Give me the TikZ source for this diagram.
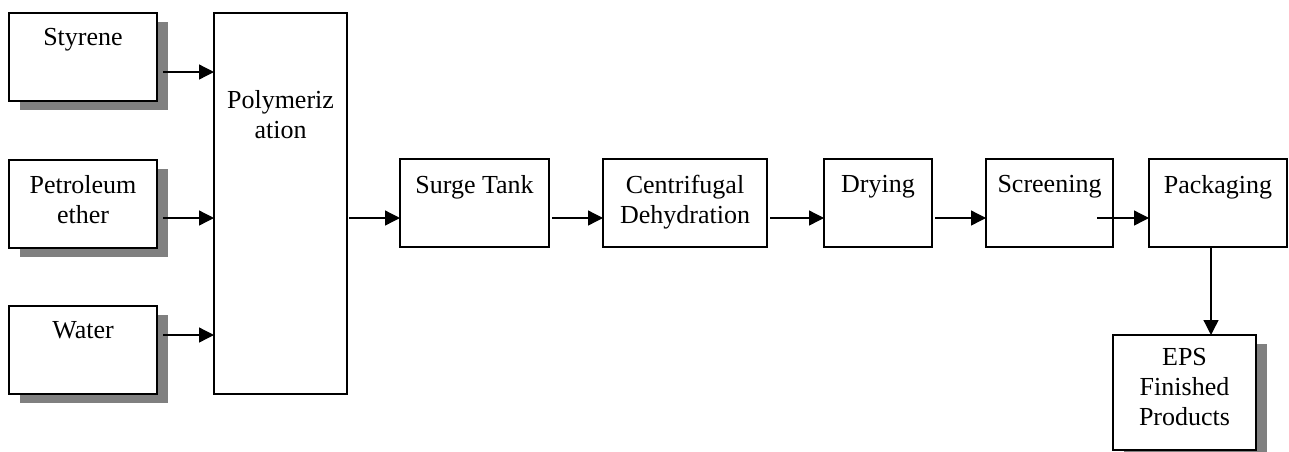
\documentclass[tikz,border=0pt]{standalone}
\usepackage{fontspec}
\setmainfont{Liberation Serif}
\usetikzlibrary{arrows.meta,shadows}
\definecolor{shadowgray}{RGB}{128,128,128}
\tikzset{
  box/.style={draw=black, fill=white, line width=1.4pt, rectangle, inner sep=0pt, outer sep=0pt},
  shbox/.style={box, drop shadow={shadow xshift=11pt, shadow yshift=-8.5pt, fill=shadowgray, opacity=1}},
  txt/.style={anchor=north, inner sep=0pt, align=center, font=\fontsize{26}{30}\selectfont},
  arr/.style={line width=1.3pt, -{Triangle[length=15pt,width=15pt]}},
}
\begin{document}
\begin{tikzpicture}[x=1pt,y=-1pt]
\useasboundingbox (0,0) rectangle (1289,451);
% inputs
\node[shbox, minimum width=148pt, minimum height=88pt,
      label={[txt, name=styT, yshift=-15pt]north:Styrene}] (sty) at (83,57) {};
\node[shbox, minimum width=148pt, minimum height=88pt,
      label={[txt, name=petT, yshift=-15pt]north:Petroleum\\ether}] (pet) at (83,204) {};
\node[shbox, minimum width=148pt, minimum height=88pt,
      label={[txt, name=watT, yshift=-15pt]north:Water}] (wat) at (83,350) {};
% polymerization
\node[box, minimum width=133pt, minimum height=381pt,
      label={[txt, name=polT, yshift=-77pt]north:Polymeriz\\ation}] (poly) at (280.5,203.5) {};
% process chain
\node[box, minimum width=149pt, minimum height=88pt,
      label={[txt, name=surT, yshift=-16pt]north:Surge Tank}] (surge) at (474.5,203) {};
\node[box, minimum width=164pt, minimum height=88pt,
      label={[txt, name=cenT, yshift=-16pt]north:Centrifugal\\Dehydration}] (cent) at (685,203) {};
\node[box, minimum width=108pt, minimum height=88pt,
      label={[txt, name=dryT, yshift=-16pt]north:Drying}] (dry) at (878,203) {};
\node[box, minimum width=127pt, minimum height=88pt,
      label={[txt, name=scrT, yshift=-16pt]north:Screening}] (scr) at (1049.5,203) {};
\node[box, minimum width=138pt, minimum height=88pt,
      label={[txt, name=pacT, yshift=-16pt]north:Packaging}] (pack) at (1218,203) {};
\node[shbox, minimum width=143pt, minimum height=115pt,
      label={[txt, name=epsT, yshift=-13pt]north:EPS\\Finished\\Products}] (eps) at (1184.5,392.5) {};
% arrows into polymerization
\draw[arr] ([shift={(6pt,-15pt)}]sty.east) -- ([yshift=-15pt]sty.east -| poly.west);
\draw[arr] ([shift={(6pt,-14pt)}]pet.east) -- ([yshift=-14pt]pet.east -| poly.west);
\draw[arr] ([shift={(6pt,15pt)}]wat.east) -- ([yshift=15pt]wat.east -| poly.west);
% main chain
\draw[arr] ([shift={(2pt,-15pt)}]poly.east |- surge.west) -- ([yshift=-15pt]surge.west);
\draw[arr] ([shift={(3pt,-15pt)}]surge.east) -- ([yshift=-15pt]cent.west);
\draw[arr] ([shift={(3pt,-15pt)}]cent.east) -- ([yshift=-15pt]dry.west);
\draw[arr] ([shift={(3pt,-15pt)}]dry.east) -- ([yshift=-15pt]scr.west);
\draw[arr] ([shift={(-16pt,-15pt)}]scr.east) -- ([yshift=-15pt]pack.west);
\draw[arr] ([xshift=-7pt]pack.south) -- ([xshift=-7pt]pack.south |- eps.north);
\end{tikzpicture}
\end{document}
